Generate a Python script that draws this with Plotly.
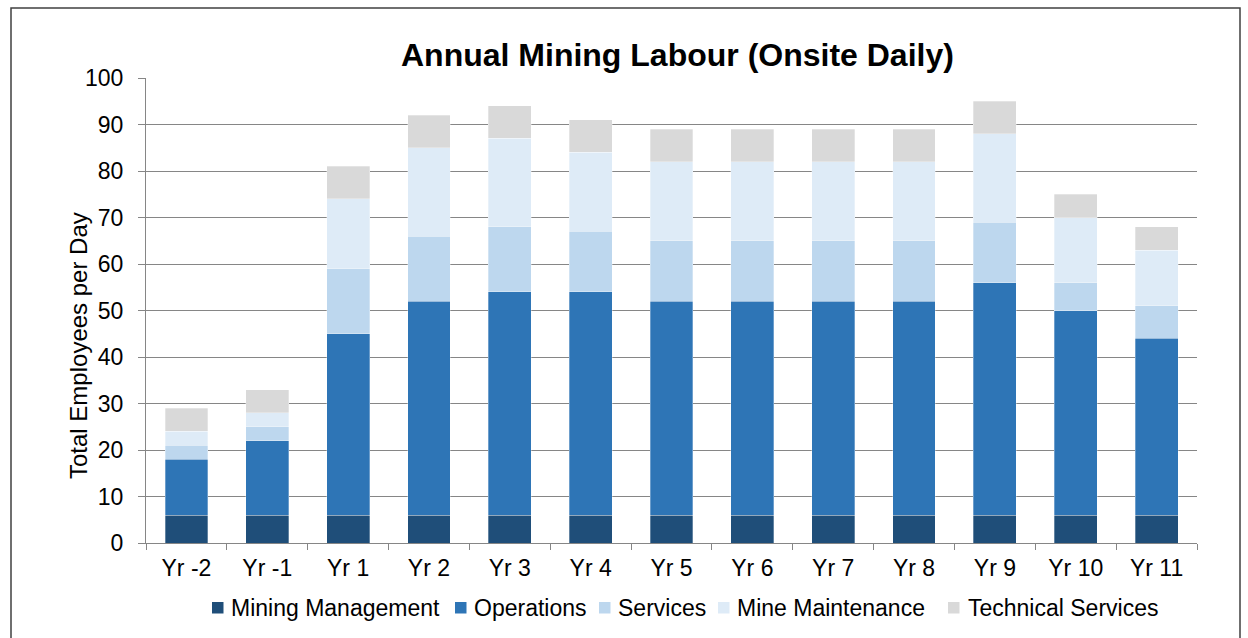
import plotly.graph_objects as go

years = ["Yr -2", "Yr -1", "Yr 1", "Yr 2", "Yr 3", "Yr 4", "Yr 5",
         "Yr 6", "Yr 7", "Yr 8", "Yr 9", "Yr 10", "Yr 11"]

mining_management = [6, 6, 6, 6, 6, 6, 6, 6, 6, 6, 6, 6, 6]
operations = [12, 16, 39, 46, 48, 48, 46, 46, 46, 46, 50, 44, 38]
services = [3, 3, 14, 14, 14, 13, 13, 13, 13, 13, 13, 6, 7]
mine_maintenance = [3, 3, 15, 19, 19, 17, 17, 17, 17, 17, 19, 14, 12]
technical_services = [5, 5, 7, 7, 7, 7, 7, 7, 7, 7, 7, 5, 5]

series = [
    ("Mining Management", mining_management, "#1F4E79"),
    ("Operations", operations, "#2E75B6"),
    ("Services", services, "#BDD7EE"),
    ("Mine Maintenance", mine_maintenance, "#DEEBF7"),
    ("Technical Services", technical_services, "#D9D9D9"),
]

FONT = "Liberation Sans, Arial, sans-serif"

W, H = 1248, 638
L, R, T, B = 146, 51, 78, 95
pw, ph = W - L - R, H - T - B


def px_x(x):
    return (x - L) / pw


def px_y(y):
    return (H - B - y) / ph


fig = go.Figure()
for name, vals, color in series:
    fig.add_trace(go.Bar(
        x=years, y=vals, name=name, showlegend=False,
        marker=dict(color=color, line=dict(color="rgba(255,255,255,0.6)", width=0.5)),
    ))

# Legend row below the axis: small square swatch followed by the series name
legend_swatch_x = [212, 455, 599, 718, 948]
legend_text_x = [229, 472, 616, 735, 966]
shapes = []
annotations = []
for (name, _, color), sx, tx in zip(series, legend_swatch_x, legend_text_x):
    shapes.append(dict(
        type="rect", xref="paper", yref="paper",
        x0=px_x(sx), x1=px_x(sx + 11.5), y0=px_y(613.5), y1=px_y(602),
        fillcolor=color, line=dict(width=0),
    ))
    annotations.append(dict(
        text=name, xref="paper", yref="paper", x=px_x(tx), y=px_y(608),
        xanchor="left", yanchor="middle", showarrow=False,
        font=dict(size=23, family=FONT, color="#000000"),
    ))

annotations.append(dict(
    text="<b>Annual Mining Labour (Onsite Daily)</b>",
    xref="paper", yref="paper", x=px_x(677), y=px_y(55),
    xanchor="center", yanchor="middle", showarrow=False,
    font=dict(size=32, family=FONT, color="#000000"),
))
annotations.append(dict(
    text="Total Employees per Day",
    xref="paper", yref="paper", x=px_x(78), y=px_y(346),
    xanchor="center", yanchor="middle", showarrow=False, textangle=-90,
    font=dict(size=24, family=FONT, color="#000000"),
))

# Outer chart border
shapes.append(dict(
    type="rect", xref="paper", yref="paper",
    x0=px_x(11), x1=px_x(1240), y0=px_y(645), y1=px_y(8),
    line=dict(color="#404040", width=1.5), layer="below",
))

fig.update_layout(
    width=W, height=H,
    barmode="stack", bargap=0.47,
    margin=dict(l=L, r=R, t=T, b=B, pad=0),
    paper_bgcolor="white", plot_bgcolor="white",
    font=dict(family=FONT, size=23, color="#000000"),
    showlegend=False,
    xaxis=dict(
        showgrid=False, showline=True, linecolor="#868686", linewidth=1,
        ticks="outside", tickson="boundaries", ticklen=6, tickcolor="#868686",
        tickfont=dict(size=23), ticklabelstandoff=4, fixedrange=True,
    ),
    yaxis=dict(
        range=[0, 100], dtick=10, showgrid=True, gridcolor="#868686", gridwidth=1,
        showline=True, linecolor="#868686", linewidth=1,
        ticks="outside", ticklen=7, tickcolor="#868686",
        tickfont=dict(size=23), ticklabelstandoff=10, zeroline=False,
        fixedrange=True,
    ),
    annotations=annotations,
    shapes=shapes,
)

fig.write_html("out.html")
